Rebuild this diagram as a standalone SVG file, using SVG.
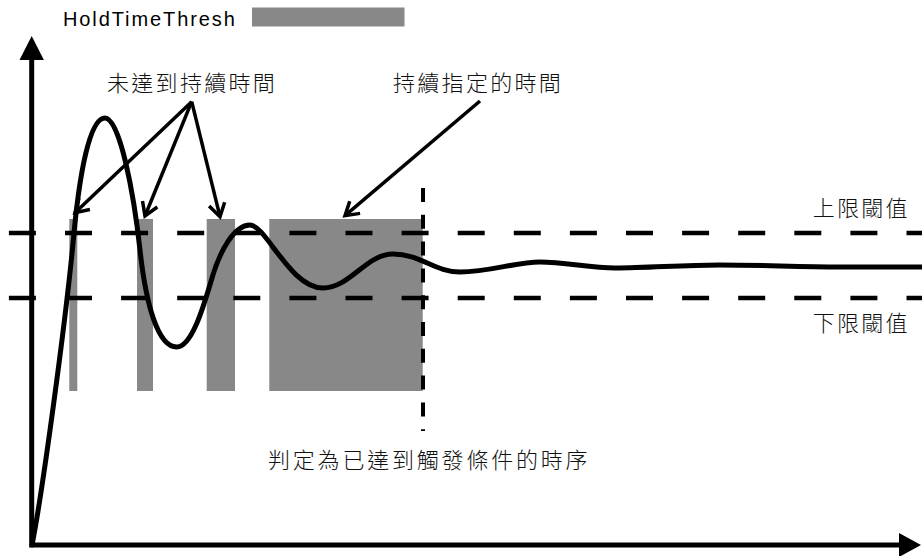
<svg xmlns="http://www.w3.org/2000/svg" width="922" height="556" viewBox="0 0 922 556">
<style>
.bar{fill:#888888}
.dash{stroke:#000;stroke-width:4.5;fill:none;stroke-dasharray:27 29.1}
.vdash{stroke:#000;stroke-width:4;fill:none;stroke-dasharray:14 12.8}
.curve{stroke:#000;stroke-width:5;fill:none;stroke-linejoin:round;stroke-linecap:round}
.axis{stroke:#000;stroke-width:5;fill:none}
.arr{stroke:#000;stroke-width:3.5;fill:none;marker-end:url(#oa)}
.cjk{font-family:"Noto Sans CJK TC","Noto Sans CJK SC",sans-serif;font-size:22px;font-weight:300;fill:#111;letter-spacing:2.3px}
.lat{font-family:"Liberation Sans",Arial,sans-serif;font-size:20px;fill:#000;letter-spacing:1.9px}
</style>
<defs>
<marker id="oa" viewBox="-18 -12 22 24" markerWidth="22" markerHeight="24" refX="0" refY="0" orient="auto" markerUnits="userSpaceOnUse">
<path d="M-13,-8 L0,0 L-13,8" fill="none" stroke="#000" stroke-width="3.5" stroke-linejoin="miter"/>
</marker>
</defs>
<g id="legend">
<text class="lat" x="63" y="26">HoldTimeThresh</text>
<rect class="bar" x="252" y="7.5" width="152.5" height="19"/>
</g>
<g id="bars">
<rect id="bar1" class="bar" x="69.3" y="219" width="8" height="172"/>
<rect id="bar2" class="bar" x="137" y="219" width="16" height="172"/>
<rect id="bar3" class="bar" x="206.7" y="219" width="28.3" height="172"/>
<rect id="bar4" class="bar" x="269.3" y="219" width="153.4" height="172"/>
</g>
<g id="thresholds">
<line class="dash" x1="8.9" y1="233" x2="922" y2="233"/>
<line class="dash" x1="8.9" y1="298" x2="922" y2="298"/>
<line class="vdash" x1="423" y1="188" x2="423" y2="431"/>
</g>
<g id="axes">
<path class="axis" d="M31.7,58 V545 H900"/>
<polygon points="31.7,36 19.5,60 43.9,60" fill="#000"/>
<polygon points="921,545 899,533 899,557" fill="#000"/>
</g>
<g id="signal">
<path class="curve" d="M32,545 C42,495 66,320 74,233 C80,170 90,118 105,118 C120,118 134,195 140,250 C146,305 158,347 176.7,347 C192,347 204,305 212,278 C220,251 234,225 250,225 C266,225 290,288 323,288 C350,288 366,254 393,254 C420,254 435,272 460,272 C490,272 515,262 540,262 C565,262 590,268 615,268 C650,268 680,265 720,265 C760,265 800,267 840,267 L922,267"/>
</g>
<g id="connectors">
<line class="arr" x1="191.7" y1="101.7" x2="75" y2="212.7"/>
<line class="arr" x1="191.7" y1="101.7" x2="145" y2="216"/>
<line class="arr" x1="191.7" y1="101.7" x2="220" y2="216.7"/>
<line class="arr" x1="480" y1="101" x2="345" y2="215.7"/>
</g>
<g id="labels">
<text class="cjk" x="107" y="91">未達到持續時間</text>
<text class="cjk" x="393" y="91">持續指定的時間</text>
<text class="cjk" x="812.7" y="216">上限閾值</text>
<text class="cjk" x="812.7" y="331">下限閾值</text>
<text class="cjk" x="268" y="468" style="letter-spacing:2.8px">判定為已達到觸發條件的時序</text>
</g>
</svg>
